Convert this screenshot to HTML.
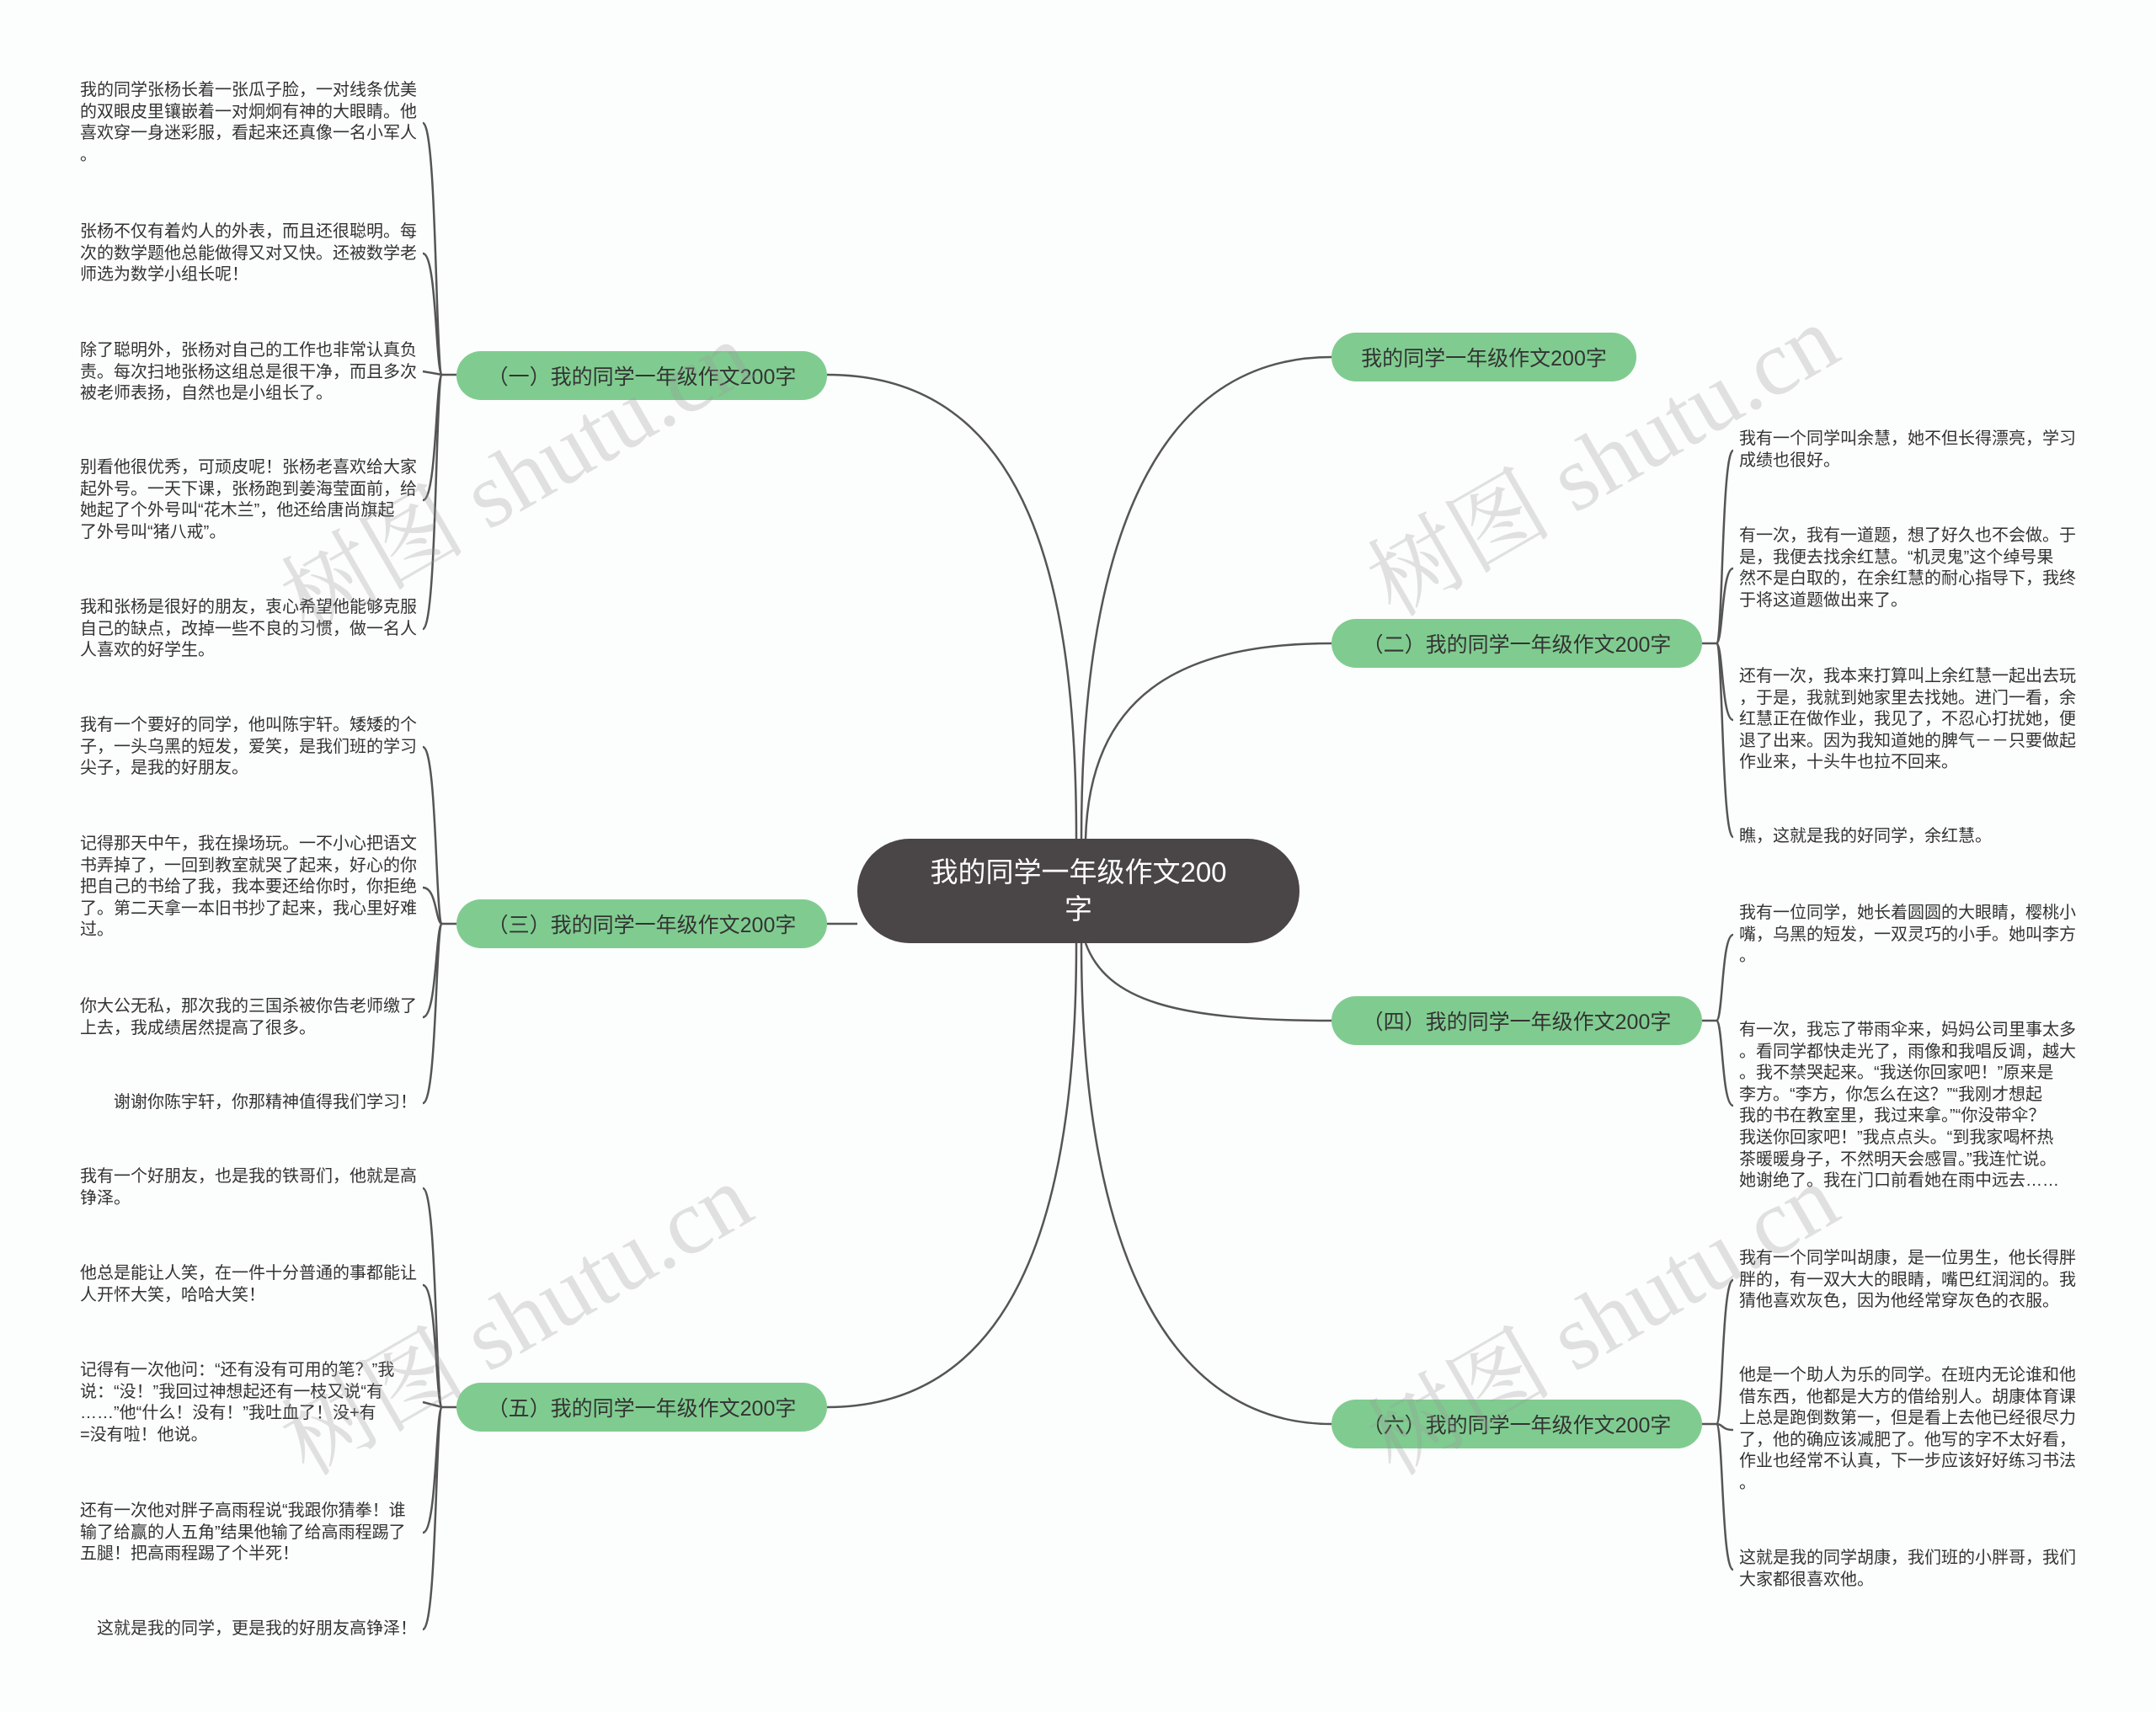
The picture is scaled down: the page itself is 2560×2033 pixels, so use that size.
<!DOCTYPE html>
<html><head><meta charset="utf-8">
<style>
html,body{margin:0;padding:0;background:#fcfdfd;}
body{width:2560px;height:2033px;position:relative;overflow:hidden;font-family:"Liberation Sans","Noto Sans CJK SC",sans-serif;}
.t{position:absolute;font-size:20px;line-height:25.6px;color:#333;white-space:nowrap;}
.n{position:absolute;background:#80cc90;border-radius:29px;color:#333;font-size:25px;display:flex;align-items:center;justify-content:center;white-space:nowrap;}
.c{position:absolute;left:1018px;top:996px;width:525px;height:124px;background:#4a4546;border-radius:62px;color:#fff;font-size:33px;line-height:44px;text-align:center;display:flex;align-items:center;justify-content:center;}
.wm{position:absolute;font-family:"Liberation Serif","Noto Serif CJK SC",serif;font-size:110px;color:rgba(150,150,150,0.28);transform:rotate(-30deg);white-space:nowrap;}
svg{position:absolute;left:0;top:0;}
</style></head><body>
<svg width="2560" height="2033" fill="none" stroke="#555" stroke-width="2.5">
<path d="M982,445 C1225,445 1278,700 1278,996"/>
<path d="M982,1097 L1018,1097"/>
<path d="M982,1671 C1225,1671 1278,1400 1278,1120"/>
<path d="M1284,996 C1284,600 1395,424 1581,424"/>
<path d="M1289,996 C1294,830 1395,764 1581,764"/>
<path d="M1289,1120 C1314,1188 1395,1212 1581,1212"/>
<path d="M1284,1120 C1284,1500 1395,1691 1581,1691"/>
<path d="M542,445 L525,445 C517,445 519,146 502,146"/>
<path d="M525,445 C517,445 519,301 502,301"/>
<path d="M525,445 L502,441"/>
<path d="M525,445 C517,445 519,594 502,594"/>
<path d="M525,445 C517,445 519,747 502,747"/>
<path d="M542,1097 L525,1097 C517,1097 519,887 502,887"/>
<path d="M525,1097 C517,1097 519,1054 502,1054"/>
<path d="M525,1097 C517,1097 519,1208 502,1208"/>
<path d="M525,1097 C517,1097 519,1310 502,1310"/>
<path d="M542,1671 L525,1671 C517,1671 519,1411 502,1411"/>
<path d="M525,1671 C517,1671 519,1526 502,1526"/>
<path d="M525,1671 L502,1665"/>
<path d="M525,1671 C517,1671 519,1820 502,1820"/>
<path d="M525,1671 C517,1671 519,1935 502,1935"/>
<path d="M2021,764 L2038,764 C2046,764 2044,535 2058,535"/>
<path d="M2038,764 C2046,764 2044,675 2058,675"/>
<path d="M2038,764 C2046,764 2044,855 2058,855"/>
<path d="M2038,764 C2046,764 2044,994 2058,994"/>
<path d="M2021,1212 L2038,1212 C2046,1212 2044,1110 2058,1110"/>
<path d="M2038,1212 C2046,1212 2044,1313 2058,1313"/>
<path d="M2021,1691 L2038,1691 C2046,1691 2044,1520 2058,1520"/>
<path d="M2038,1691 C2046,1691 2044,1698 2058,1698"/>
<path d="M2038,1691 C2046,1691 2044,1864 2058,1864"/>
</svg>

<div class="c">我的同学一年级作文200<br>字</div>
<div class="n" style="left:542px;top:417px;width:440px;height:58px;">（一）我的同学一年级作文200字</div>
<div class="n" style="left:542px;top:1068px;width:440px;height:58px;">（三）我的同学一年级作文200字</div>
<div class="n" style="left:542px;top:1642px;width:440px;height:58px;">（五）我的同学一年级作文200字</div>
<div class="n" style="left:1581px;top:395px;width:362px;height:58px;">我的同学一年级作文200字</div>
<div class="n" style="left:1581px;top:735px;width:440px;height:58px;">（二）我的同学一年级作文200字</div>
<div class="n" style="left:1581px;top:1183px;width:440px;height:58px;">（四）我的同学一年级作文200字</div>
<div class="n" style="left:1581px;top:1662px;width:440px;height:58px;">（六）我的同学一年级作文200字</div>

<div class="t" style="left:95px;top:95px;">我的同学张杨长着一张瓜子脸，一对线条优美<br>的双眼皮里镶嵌着一对炯炯有神的大眼睛。他<br>喜欢穿一身迷彩服，看起来还真像一名小军人<br>。</div>
<div class="t" style="left:95px;top:263px;">张杨不仅有着灼人的外表，而且还很聪明。每<br>次的数学题他总能做得又对又快。还被数学老<br>师选为数学小组长呢！</div>
<div class="t" style="left:95px;top:404px;">除了聪明外，张杨对自己的工作也非常认真负<br>责。每次扫地张杨这组总是很干净，而且多次<br>被老师表扬，自然也是小组长了。</div>
<div class="t" style="left:95px;top:543px;">别看他很优秀，可顽皮呢！张杨老喜欢给大家<br>起外号。一天下课，张杨跑到姜海莹面前，给<br>她起了个外号叫“花木兰”，他还给唐尚旗起<br>了外号叫“猪八戒”。</div>
<div class="t" style="left:95px;top:709px;">我和张杨是很好的朋友，衷心希望他能够克服<br>自己的缺点，改掉一些不良的习惯，做一名人<br>人喜欢的好学生。</div>

<div class="t" style="left:95px;top:849px;">我有一个要好的同学，他叫陈宇轩。矮矮的个<br>子，一头乌黑的短发，爱笑，是我们班的学习<br>尖子，是我的好朋友。</div>
<div class="t" style="left:95px;top:990px;">记得那天中午，我在操场玩。一不小心把语文<br>书弄掉了，一回到教室就哭了起来，好心的你<br>把自己的书给了我，我本要还给你时，你拒绝<br>了。第二天拿一本旧书抄了起来，我心里好难<br>过。</div>
<div class="t" style="left:95px;top:1183px;">你大公无私，那次我的三国杀被你告老师缴了<br>上去，我成绩居然提高了很多。</div>
<div class="t" style="left:135px;top:1297px;">谢谢你陈宇轩，你那精神值得我们学习！</div>

<div class="t" style="left:95px;top:1385px;">我有一个好朋友，也是我的铁哥们，他就是高<br>铮泽。</div>
<div class="t" style="left:95px;top:1500px;">他总是能让人笑，在一件十分普通的事都能让<br>人开怀大笑，哈哈大笑！</div>
<div class="t" style="left:95px;top:1615px;">记得有一次他问：“还有没有可用的笔？”我<br>说：“没！”我回过神想起还有一枝又说“有<br>……”他“什么！没有！”我吐血了！没+有<br>=没有啦！他说。</div>
<div class="t" style="left:95px;top:1782px;">还有一次他对胖子高雨程说“我跟你猜拳！谁<br>输了给赢的人五角”结果他输了给高雨程踢了<br>五腿！把高雨程踢了个半死！</div>
<div class="t" style="left:115px;top:1922px;">这就是我的同学，更是我的好朋友高铮泽！</div>

<div class="t" style="left:2065px;top:509px;">我有一个同学叫余慧，她不但长得漂亮，学习<br>成绩也很好。</div>
<div class="t" style="left:2065px;top:624px;">有一次，我有一道题，想了好久也不会做。于<br>是，我便去找余红慧。“机灵鬼”这个绰号果<br>然不是白取的，在余红慧的耐心指导下，我终<br>于将这道题做出来了。</div>
<div class="t" style="left:2065px;top:791px;">还有一次，我本来打算叫上余红慧一起出去玩<br>，于是，我就到她家里去找她。进门一看，余<br>红慧正在做作业，我见了，不忍心打扰她，便<br>退了出来。因为我知道她的脾气－－只要做起<br>作业来，十头牛也拉不回来。</div>
<div class="t" style="left:2065px;top:981px;">瞧，这就是我的好同学，余红慧。</div>

<div class="t" style="left:2065px;top:1072px;">我有一位同学，她长着圆圆的大眼睛，樱桃小<br>嘴，乌黑的短发，一双灵巧的小手。她叫李方<br>。</div>
<div class="t" style="left:2065px;top:1211px;">有一次，我忘了带雨伞来，妈妈公司里事太多<br>。看同学都快走光了，雨像和我唱反调，越大<br>。我不禁哭起来。“我送你回家吧！”原来是<br>李方。“李方，你怎么在这？”“我刚才想起<br>我的书在教室里，我过来拿。”“你没带伞？<br>我送你回家吧！”我点点头。“到我家喝杯热<br>茶暖暖身子，不然明天会感冒。”我连忙说。<br>她谢绝了。我在门口前看她在雨中远去……</div>

<div class="t" style="left:2065px;top:1482px;">我有一个同学叫胡康，是一位男生，他长得胖<br>胖的，有一双大大的眼睛，嘴巴红润润的。我<br>猜他喜欢灰色，因为他经常穿灰色的衣服。</div>
<div class="t" style="left:2065px;top:1621px;">他是一个助人为乐的同学。在班内无论谁和他<br>借东西，他都是大方的借给别人。胡康体育课<br>上总是跑倒数第一，但是看上去他已经很尽力<br>了，他的确应该减肥了。他写的字不太好看，<br>作业也经常不认真，下一步应该好好练习书法<br>。</div>
<div class="t" style="left:2065px;top:1838px;">这就是我的同学胡康，我们班的小胖哥，我们<br>大家都很喜欢他。</div>

<div class="wm" style="left:300px;top:480px;">树图 shutu.cn</div>
<div class="wm" style="left:1590px;top:460px;">树图 shutu.cn</div>
<div class="wm" style="left:300px;top:1480px;">树图 shutu.cn</div>
<div class="wm" style="left:1590px;top:1480px;">树图 shutu.cn</div>
</body></html>
